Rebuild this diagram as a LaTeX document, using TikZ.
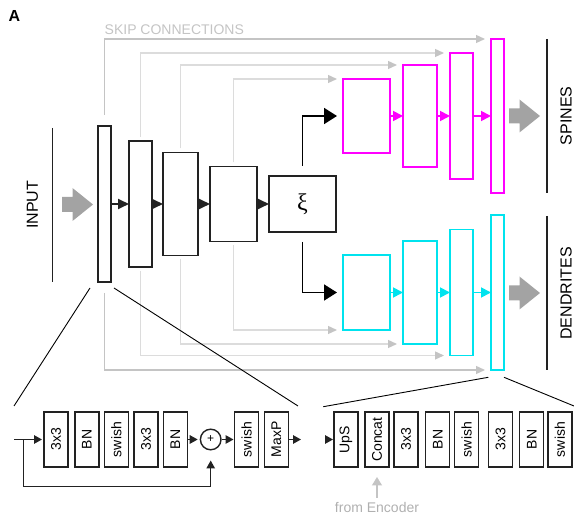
\documentclass[tikz,border=0pt]{standalone}
\usepackage{fontspec}
\setmainfont{Liberation Sans}
\newfontfamily\greekserif{Liberation Serif}
\usetikzlibrary{arrows.meta}

\definecolor{ink}{HTML}{222222}
\definecolor{skipA}{HTML}{C4C4C4}
\definecolor{skipB}{HTML}{DCDCDC}
\definecolor{bigarrow}{HTML}{A3A3A3}
\definecolor{decmag}{HTML}{FF00FF}
\definecolor{deccyan}{HTML}{00E3EE}

\tikzset{
  wh/.style 2 args={minimum width=#1pt, minimum height=#2pt},
  encbox/.style={draw=ink, line width=1.9pt, inner sep=0pt, outer sep=0pt},
  magbox/.style={draw=decmag, line width=1.8pt, inner sep=0pt, outer sep=0pt},
  cyabox/.style={draw=deccyan, line width=1.8pt, inner sep=0pt, outer sep=0pt},
  encarrow/.style={draw=ink, line width=1.8pt, -{Triangle[length=11pt,width=10pt]}},
  magarrow/.style={draw=decmag, line width=1.8pt, -{Triangle[length=10pt,width=10pt]}},
  cyaarrow/.style={draw=deccyan, line width=1.8pt, -{Triangle[length=10pt,width=10pt]}},
  brarrow/.style={draw=black, line width=1.8pt, -{Triangle[length=13pt,width=16pt]}, shorten >=6pt, shorten <=10pt},
  skipline/.style={line width=1.3pt, -{Triangle[length=9pt,width=8pt,color=skipA]}, shorten >=6pt},
  sidebar/.style={draw=ink, line width=1.5pt},
  zoomline/.style={draw=black, line width=0.9pt},
  lbox/.style={draw=ink, line width=1.4pt, minimum width=24pt, minimum height=55pt,
    inner sep=0pt, outer sep=0pt, font=\fontsize{14}{16}\selectfont},
  smallarr/.style={draw=ink, line width=1.4pt, -{Triangle[length=8pt,width=8.5pt]}},
  biglabel/.style={rotate=90, inner sep=0pt, font=\fontsize{16}{18}\selectfont},
  bigarr/.pic={\fill[bigarrow] (0,-7.5) -- (10.5,-7.5) -- (10.5,-16.5) -- (31,0)
     -- (10.5,16.5) -- (10.5,7.5) -- (0,7.5) -- cycle;},
}

\begin{document}
\begin{tikzpicture}[x=1pt,y=-1pt]
\useasboundingbox (0,0) rectangle (574,518);

% panel letter and heading
\node[anchor=west, inner sep=0pt, font=\bfseries\fontsize{16}{18}\selectfont] (lbl) at (8.5,15.8) {A};
\node[anchor=west, inner sep=0pt, text=skipA, font=\fontsize{14}{16}\selectfont] (skl) at (104.5,30) {SKIP CONNECTIONS};

% encoder
\node[encbox, wh={13}{156}] (e1) at (104.5,204) {};
\node[encbox, wh={23}{126}] (e2) at (140.5,204) {};
\node[encbox, wh={35}{103}] (e3) at (180.5,204) {};
\node[encbox, wh={47}{75}]  (e4) at (233.5,204) {};
\node[encbox, wh={67}{56}]  (xi) at (302.5,204) {\greekserif\fontsize{24}{24}\selectfont ξ};

\draw[encarrow] (e1) -- (e2);
\draw[encarrow] (e2) -- (e3);
\draw[encarrow] (e3) -- (e4);
\draw[encarrow] (e4) -- (xi);

% spine decoder
\node[magbox, wh={47}{74}]  (m1) at (366.5,116) {};
\node[magbox, wh={34}{102}] (m2) at (420,116) {};
\node[magbox, wh={23}{126}] (m3) at (461.5,116) {};
\node[magbox, wh={13}{154}] (m4) at (497.5,116) {};
\draw[magarrow] (m1) -- (m2);
\draw[magarrow] (m2) -- (m3);
\draw[magarrow] (m3) -- (m4);

% dendrite decoder
\node[cyabox, wh={47}{75}]  (c1) at (366.5,292.5) {};
\node[cyabox, wh={34}{103}] (c2) at (420,292.5) {};
\node[cyabox, wh={23}{126}] (c3) at (461.5,292.5) {};
\node[cyabox, wh={13}{155}] (c4) at (497.5,292.5) {};
\draw[cyaarrow] (c1) -- (c2);
\draw[cyaarrow] (c2) -- (c3);
\draw[cyaarrow] (c3) -- (c4);

% latent space branches
\draw[brarrow] (xi.north) |- (m1.west);
\draw[brarrow] (xi.south) |- (c1.west);

% skip connections
\draw[skipline, skipA, shorten <=11pt] (e1.north) |- (m4.north west);
\draw[skipline, skipB, shorten <=4pt]  (e2.north) |- (m3.north west);
\draw[skipline, skipB, shorten <=4pt]  (e3.north) |- (m2.north west);
\draw[skipline, skipB, shorten <=4pt]  (e4.north) |- (m1.north west);
\draw[skipline, skipA, shorten <=11pt] (e1.south) |- (c4.south west);
\draw[skipline, skipB, shorten <=4pt]  (e2.south) |- (c3.south west);
\draw[skipline, skipB, shorten <=4pt]  (e3.south) |- (c2.south west);
\draw[skipline, skipB, shorten <=4pt]  (e4.south) |- (c1.south west);

% input and outputs
\draw[sidebar] (52.7,128) -- (52.7,282);
\node[biglabel] (tin) at (32.5,205) {INPUT};
\pic at (62,204.5) {bigarr};

\draw[sidebar] (547,39) -- (547,193);
\node[biglabel] (tsp) at (566,116) {SPINES};
\pic at (509,116) {bigarr};

\draw[sidebar] (547,216) -- (547,370);
\node[biglabel] (tde) at (566,293.5) {DENDRITES};
\pic at (509,293) {bigarr};

% encoder block detail
\coordinate (inl) at (14,439.5);
\coordinate (fb) at (23.3,439.5);
\coordinate (fbc) at (23.3,486.7);
\coordinate (mpo) at (301,439.5);
\node[lbox] (b1) at (56,439.5)    {\rotatebox{90}{3x3}};
\node[lbox] (b2) at (86.8,439.5)  {\rotatebox{90}{BN}};
\node[lbox] (b3) at (116.3,439.5) {\rotatebox{90}{swish}};
\node[lbox] (b4) at (146,439.5)   {\rotatebox{90}{3x3}};
\node[lbox] (b5) at (175.3,439.5) {\rotatebox{90}{BN}};
\node[draw=ink, line width=1.4pt, circle, minimum size=20.6pt, inner sep=0pt,
      font=\fontsize{12}{12}\selectfont] (plus) at (210.7,439.5) {+};
\node[lbox] (b6) at (246.5,439.5) {\rotatebox{90}{swish}};
\node[lbox] (b7) at (276.3,439.5) {\rotatebox{90}{MaxP}};

\draw[smallarr, shorten >=2pt] (inl) -- (b1);
\draw[smallarr, shorten >=2pt] (b5) -- (plus);
\draw[smallarr, shorten >=1pt] (plus) -- (b6);
\draw[smallarr] (b7) -- (mpo);
\draw[smallarr, shorten >=10pt] (fb) -- (fbc) -| (plus.south);

% decoder block detail
\coordinate (upin) at (326.5,439.5);
\node[lbox] (u1) at (346,439.5)   {\rotatebox{90}{UpS}};
\node[lbox] (u2) at (377,439.5)   {\rotatebox{90}{Concat}};
\node[lbox] (u3) at (406,439.5)   {\rotatebox{90}{3x3}};
\node[lbox] (u4) at (437.7,439.5) {\rotatebox{90}{BN}};
\node[lbox] (u5) at (466.5,439.5) {\rotatebox{90}{swish}};
\node[lbox] (u6) at (500.5,439.5) {\rotatebox{90}{3x3}};
\node[lbox] (u7) at (531.7,439.5) {\rotatebox{90}{BN}};
\node[lbox] (u8) at (559.8,439.5) {\rotatebox{90}{swish}};
\draw[smallarr, shorten >=1pt] (upin) -- (u1);

\node[anchor=base, inner sep=0pt, text=skipA!90!black, font=\fontsize{14}{16}\selectfont] (fe) at (377,512.5) {from Encoder};
\draw[line width=1.3pt, skipA, -{Triangle[length=8.5pt,width=10pt]}, shorten >=10pt]
  ([yshift=4.6pt]fe.north) -- (u2.south);

% magnification lines
\coordinate (zl1) at (90,288);
\coordinate (zl2) at (14,406);
\coordinate (zr1) at (114,288);
\coordinate (zr2) at (298,406);
\coordinate (dl1) at (488.3,377.3);
\coordinate (dl2) at (323.3,406.7);
\coordinate (dr1) at (504,377.3);
\coordinate (dr2) at (574,406);
\draw[zoomline] (zl1) -- (zl2);
\draw[zoomline] (zr1) -- (zr2);
\draw[zoomline] (dl1) -- (dl2);
\draw[zoomline] (dr1) -- (dr2);
\end{tikzpicture}
\end{document}
